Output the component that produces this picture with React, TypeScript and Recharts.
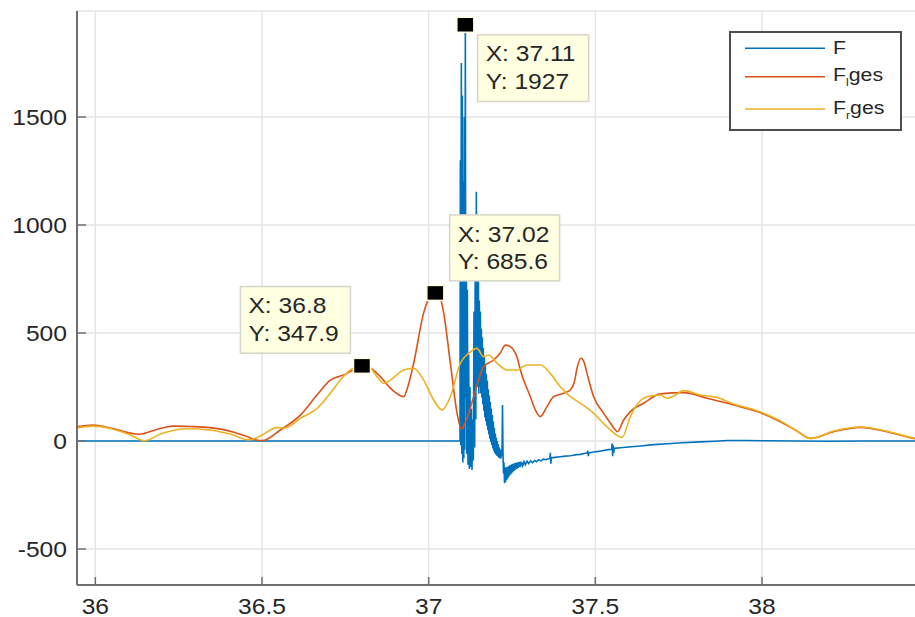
import React from 'react';
import { LineChart, Line, XAxis, YAxis, CartesianGrid, ReferenceDot, Legend } from 'recharts';

// ---- axis setup ----
const X_TICKS = [36, 36.5, 37, 37.5, 38];
const Y_TICKS = [-500, 0, 500, 1000, 1500];
const X_DOMAIN: [number, number] = [35.945, 38.504];
const Y_DOMAIN: [number, number] = [-666.7, 1990.7];

// ---- series ----
const SERIES_NAMES = ['F', 'F_l ges', 'F_r ges'];

// F: total force (time, value)
const F_POINTS: [number, number][] = [
  [35.945, 0], [36.2, 0], [36.6, 0], [37.0, 0], [37.094, 0],
  [37.095, 1300], [37.0965, -20], [37.098, 1750], [37.0995, -60], [37.101, 1600],
  [37.1025, -100], [37.104, 1200], [37.1055, -80], [37.107, 1500], [37.1085, -40],
  [37.11, 1927], [37.1115, 200], [37.113, 900], [37.1145, -60], [37.116, 700],
  [37.118, -110], [37.12, 400], [37.122, -130], [37.124, 250], [37.126, -120],
  [37.128, 150], [37.13, -134], [37.132, 100], [37.134, -90], [37.136, 600],
  [37.138, -30], [37.14, 1000], [37.1415, 100], [37.143, 1154], [37.1445, 250],
  [37.146, 950], [37.1475, 250], [37.149, 800], [37.1505, 220], [37.152, 650],
  [37.1535, 250], [37.155, 600], [37.1565, 220], [37.158, 520], [37.1595, 200],
  [37.161, 480], [37.1625, 170], [37.164, 430], [37.1655, 140], [37.167, 390],
  [37.1685, 110], [37.17, 350], [37.1715, 90], [37.173, 310], [37.1745, 70],
  [37.176, 280], [37.1775, 50], [37.179, 240], [37.1805, 30], [37.182, 210],
  [37.1835, 10], [37.185, 180], [37.1865, -5], [37.188, 150], [37.1895, -20],
  [37.191, 120], [37.1925, -35], [37.194, 90], [37.1955, -45], [37.197, 60],
  [37.1985, -55], [37.2, 35], [37.2015, -62], [37.203, 15], [37.2045, -68],
  [37.206, 0], [37.2075, -72], [37.209, -15], [37.2105, -78], [37.212, -30],
  [37.2135, -80], [37.215, -40], [37.2165, -82], [37.218, -50], [37.22, -70],
  [37.2215, 167], [37.223, -60], [37.2245, -150], [37.226, -100], [37.2275, -196],
  [37.229, -120], [37.2305, -190], [37.232, -125], [37.2335, -180], [37.235, -120],
  [37.2365, -175], [37.238, -118], [37.2395, -168], [37.241, -115], [37.2425, -160],
  [37.244, -112], [37.2455, -155], [37.247, -110], [37.2485, -150], [37.25, -108],
  [37.2515, -145], [37.253, -106], [37.2545, -140], [37.256, -104], [37.2575, -136],
  [37.259, -102], [37.261, -132], [37.263, -100], [37.265, -128], [37.267, -99],
  [37.269, -124], [37.272, -97], [37.275, -120], [37.278, -96], [37.282, -115],
  [37.286, -95], [37.29, -110], [37.295, -93], [37.3, -105], [37.306, -92],
  [37.312, -100], [37.318, -90], [37.324, -96], [37.33, -87], [37.337, -92],
  [37.344, -84], [37.352, -87], [37.3635, -80], [37.365, -55], [37.3665, -105],
  [37.368, -78], [37.38, -76], [37.395, -73], [37.41, -70], [37.425, -68],
  [37.434, -66], [37.444, -63], [37.455, -62], [37.47, -57], [37.476, -55],
  [37.4775, -45], [37.479, -70], [37.4805, -55], [37.495, -51], [37.51, -48],
  [37.525, -44], [37.54, -40], [37.549, -38], [37.5505, -12], [37.552, -70],
  [37.5535, -20], [37.555, -55], [37.557, -34], [37.575, -31], [37.6, -28],
  [37.635, -23], [37.675, -17], [37.716, -13], [37.76, -8], [37.815, -4],
  [37.86, -1], [37.896, 2], [37.95, 2], [38.016, 1], [38.1, 0], [38.2, -1],
  [38.3, 0], [38.4, 0], [38.504, 0],
];

// F_l ges: left-side force (time, value)
const FL_POINTS: [number, number][] = [
  [35.945, 66], [35.993, 74], [36.045, 60], [36.132, 31], [36.18, 51],
  [36.233, 69], [36.285, 67], [36.342, 62], [36.413, 42], [36.45, 23],
  [36.483, 5], [36.501, 2], [36.555, 51], [36.615, 120], [36.665, 213],
  [36.705, 282], [36.745, 306], [36.774, 329], [36.8, 347.9], [36.825, 338],
  [36.855, 298], [36.885, 245], [36.906, 218], [36.925, 205], [36.939, 259],
  [36.955, 360], [36.985, 593], [37.005, 671], [37.02, 685.6], [37.035, 662],
  [37.045, 593], [37.065, 361], [37.085, 130], [37.098, 56], [37.113, 97],
  [37.135, 205], [37.165, 344], [37.195, 375], [37.215, 407], [37.23, 444],
  [37.242, 440], [37.255, 421], [37.266, 384], [37.275, 329], [37.305, 205],
  [37.32, 144], [37.335, 113], [37.355, 159], [37.375, 205], [37.405, 221],
  [37.425, 236], [37.437, 273], [37.446, 343], [37.457, 383], [37.466, 366],
  [37.475, 313], [37.495, 205], [37.525, 128], [37.545, 83], [37.56, 51],
  [37.566, 43], [37.585, 97], [37.605, 136], [37.645, 175], [37.695, 218],
  [37.765, 224], [37.835, 198], [37.915, 167], [37.985, 136], [38.055, 89],
  [38.1, 51], [38.145, 12], [38.215, 43], [38.295, 63], [38.375, 43],
  [38.455, 12], [38.504, 5],
];

// F_r ges: right-side force (time, value)
const FR_POINTS: [number, number][] = [
  [35.945, 60], [35.991, 69], [36.045, 58], [36.105, 28], [36.148, 1],
  [36.195, 32], [36.273, 57], [36.342, 51], [36.405, 32], [36.463, 5],
  [36.501, 28], [36.543, 62], [36.567, 60], [36.615, 105], [36.665, 151],
  [36.705, 221], [36.735, 282], [36.765, 329], [36.798, 347], [36.825, 338],
  [36.845, 298], [36.865, 267], [36.885, 282], [36.925, 329], [36.955, 337],
  [36.985, 282], [37.015, 190], [37.04, 144], [37.065, 205], [37.095, 360],
  [37.12, 406], [37.145, 429], [37.165, 390], [37.18, 398], [37.205, 360],
  [37.235, 329], [37.265, 329], [37.295, 352], [37.335, 352], [37.365, 313],
  [37.395, 251], [37.425, 205], [37.455, 175], [37.495, 128], [37.535, 66],
  [37.58, 16], [37.605, 112], [37.615, 144], [37.655, 205], [37.695, 213],
  [37.715, 198], [37.735, 208], [37.765, 233], [37.815, 213], [37.865, 202],
  [37.915, 171], [37.985, 140], [38.055, 93], [38.1, 51], [38.145, 12],
  [38.215, 46], [38.295, 65], [38.375, 45], [38.455, 14], [38.504, 5],
];

// data tips
const TIP_X = [36.8, 37.02, 37.11];
const TIP_Y = [347.9, 685.6, 1927];

// ---- layout & style ----
const CHART_W = 930;
const CHART_H = 617;
const PLOT_LEFT = 77;
const PLOT_TOP = 11;
const PLOT_BOTTOM = 585;
const FONT = '"Liberation Sans", Arial, Helvetica, sans-serif';
const TEXT_COLOR = '#262626';
const AXIS_COLOR = '#6f6f6f';
const STRETCH = 1.12;
const COLORS = ['#0072BD', '#D95319', '#EDB120'];

// box placement of each data tip relative to its marker
const TIP_BOXES = [
  { dx: -121.6, dy: -79.3, w: 110, h: 66.7 },
  { dx: 14.3, dy: -78, w: 110, h: 66 },
  { dx: 12.3, dy: 10, w: 111, h: 66.7 },
];

const toRows = (pts: [number, number][]) => pts.map(([t, v]) => ({ t, v }));

const StretchText = ({ x, y, anchor, size, children }: any) => (
  <text
    transform={`translate(${x},${y}) scale(${STRETCH},1)`}
    textAnchor={anchor}
    fontFamily={FONT}
    fontSize={size}
    fill={TEXT_COLOR}
  >
    {children}
  </text>
);

const YTick = (props: any) => {
  const { y, payload } = props;
  return (
    <g>
      <line x1={PLOT_LEFT} x2={PLOT_LEFT + 9} y1={y} y2={y} stroke={AXIS_COLOR} strokeWidth={1.5} />
      <StretchText x={PLOT_LEFT - 10} y={y + 7.8} anchor="end" size={22}>
        {String(payload.value)}
      </StretchText>
    </g>
  );
};

const XTick = (props: any) => {
  const { x, payload } = props;
  return (
    <g>
      <line x1={x} x2={x} y1={PLOT_BOTTOM} y2={PLOT_BOTTOM - 8} stroke={AXIS_COLOR} strokeWidth={1.5} />
      <StretchText x={x} y={613.5} anchor="middle" size={22}>
        {String(payload.value)}
      </StretchText>
    </g>
  );
};

const TopTick = (props: any) => {
  const { x } = props;
  return <line x1={x} x2={x} y1={PLOT_TOP} y2={PLOT_TOP + 7} stroke={AXIS_COLOR} strokeWidth={1.5} />;
};

const DataTip = ({ cx, cy, i }: any) => {
  const b = TIP_BOXES[i];
  const bx = cx + b.dx;
  const by = cy + b.dy;
  return (
    <g>
      <rect x={bx} y={by} width={b.w} height={b.h} fill="#FFFFE1" stroke="#d6d6c8" strokeWidth={1.5} />
      <StretchText x={bx + 8} y={by + 26.7} anchor="start" size={22}>
        {`X: ${TIP_X[i]}`}
      </StretchText>
      <StretchText x={bx + 8} y={by + 54.5} anchor="start" size={22}>
        {`Y: ${TIP_Y[i]}`}
      </StretchText>
      <rect x={cx - 8.5} y={cy - 7.5} width={17} height={15} fill="#000" stroke="#FFFFE1" strokeWidth={1.5} />
    </g>
  );
};

const LegendLabel = ({ name, x, y }: any) => {
  const [base, rest] = name.split(' ');
  const [main, sub] = base.split('_');
  return (
    <text
      transform={`translate(${x},${y}) scale(${STRETCH},1)`}
      fontFamily={FONT}
      fontSize={19}
      fill={TEXT_COLOR}
    >
      <tspan>{main}</tspan>
      {sub ? (
        <tspan fontSize={11} dy={5}>
          {sub}
        </tspan>
      ) : null}
      {rest ? <tspan dy={sub ? -5 : 0}>{rest}</tspan> : null}
    </text>
  );
};

const LegendBox = (props: any) => {
  const items = props.payload || [];
  const rowY = [17.3, 45.7, 78];
  const textY = [23, 49.7, 83];
  return (
    <svg width={174} height={101} style={{ display: 'block' }}>
      <rect x={1} y={1} width={171} height={98} fill="#fff" stroke="#4d4d4d" strokeWidth={2} />
      {items.map((it: any, k: number) => (
        <g key={k}>
          <line x1={16} x2={96} y1={rowY[k]} y2={rowY[k]} stroke={it.color} strokeWidth={1.6} />
          <LegendLabel name={it.value} x={104} y={textY[k]} />
        </g>
      ))}
    </svg>
  );
};

export default function App() {
  const series = [F_POINTS, FL_POINTS, FR_POINTS];
  return (
    <div
      style={{
        position: 'absolute',
        left: 0,
        top: 0,
        width: 915,
        height: 617,
        overflow: 'hidden',
        background: '#fff',
      }}
    >
      <LineChart
        width={CHART_W}
        height={CHART_H}
        margin={{ top: PLOT_TOP, right: 0, bottom: 0, left: 0 }}
      >
        <CartesianGrid stroke="#e4e4e4" strokeWidth={1.5} />
        <XAxis
          dataKey="t"
          type="number"
          domain={X_DOMAIN}
          ticks={X_TICKS}
          allowDataOverflow
          height={CHART_H - PLOT_BOTTOM}
          tickLine={false}
          axisLine={{ stroke: AXIS_COLOR, strokeWidth: 2 }}
          tick={<XTick />}
          interval={0}
        />
        <XAxis
          xAxisId="top"
          orientation="top"
          dataKey="t"
          type="number"
          domain={X_DOMAIN}
          ticks={X_TICKS}
          allowDataOverflow
          height={0}
          tickLine={false}
          axisLine={{ stroke: AXIS_COLOR, strokeWidth: 2 }}
          tick={<TopTick />}
          interval={0}
        />
        <YAxis
          type="number"
          domain={Y_DOMAIN}
          ticks={Y_TICKS}
          allowDataOverflow
          width={PLOT_LEFT}
          tickLine={false}
          axisLine={{ stroke: AXIS_COLOR, strokeWidth: 2 }}
          tick={<YTick />}
          interval={0}
        />
        {series.map((pts, k) => (
          <Line
            key={SERIES_NAMES[k]}
            name={SERIES_NAMES[k]}
            data={toRows(pts)}
            dataKey="v"
            type={k === 0 ? 'linear' : 'monotone'}
            stroke={COLORS[k]}
            strokeWidth={1.6}
            dot={false}
            activeDot={false}
            isAnimationActive={false}
          />
        ))}
        {TIP_X.map((tx, i) => (
          <ReferenceDot
            key={i}
            x={tx}
            y={TIP_Y[i]}
            r={8}
            shape={(p: any) => <DataTip {...p} i={i} />}
          />
        ))}
        <Legend
          layout="vertical"
          align="center"
          verticalAlign="middle"
          content={<LegendBox />}
          wrapperStyle={{ position: 'absolute', left: 729, top: 31, width: 174, height: 101 }}
        />
      </LineChart>
    </div>
  );
}
